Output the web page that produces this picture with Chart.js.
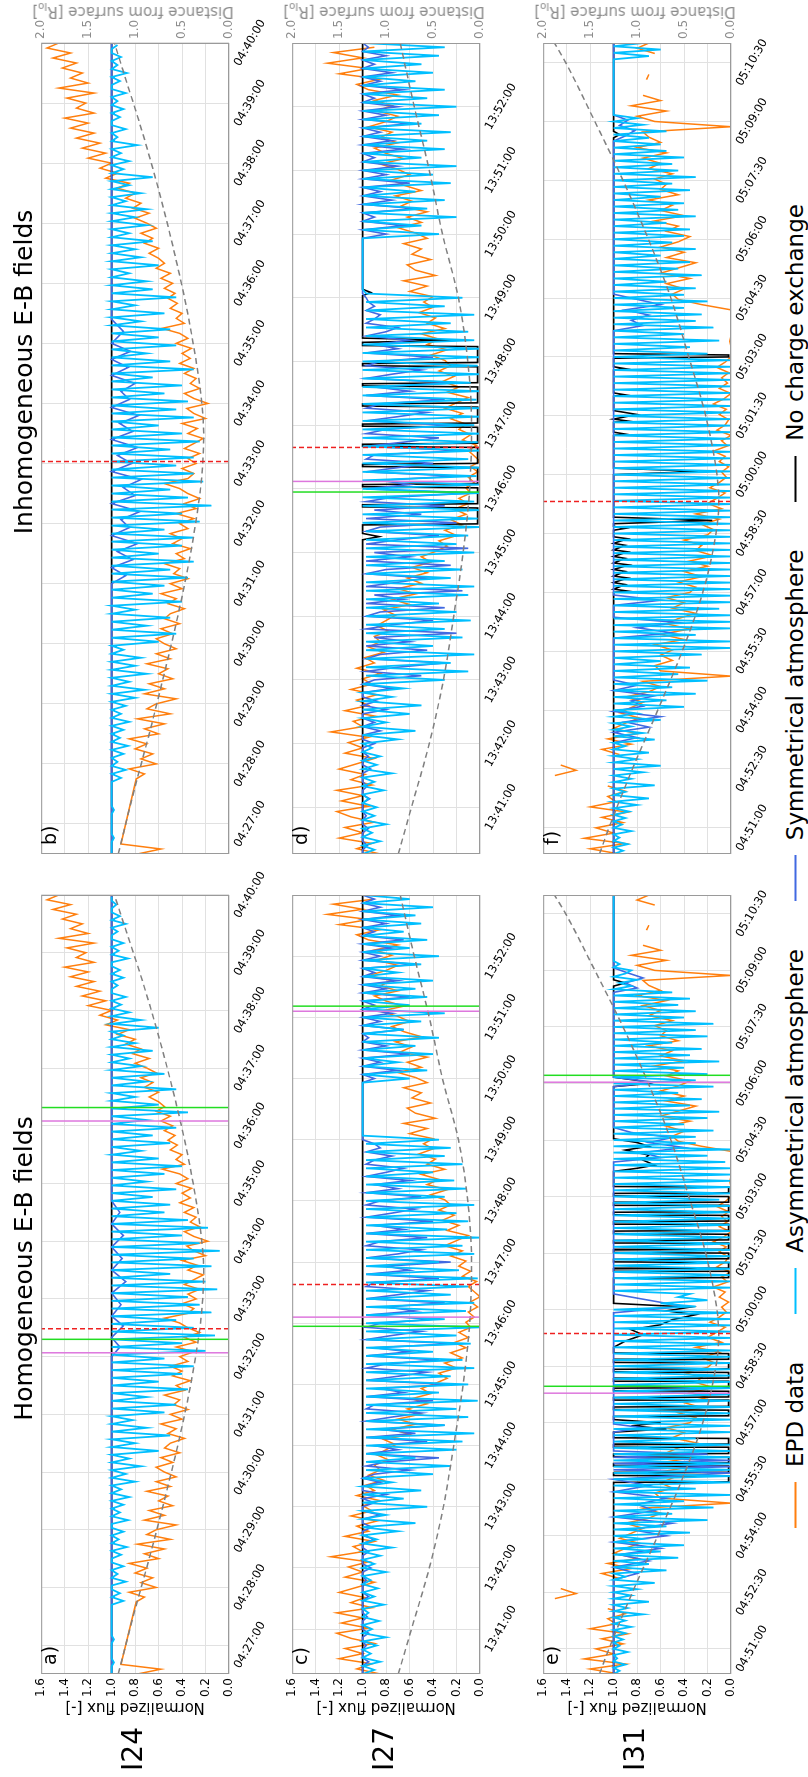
<!DOCTYPE html>
<html>
<head>
<meta charset="utf-8">
<title>Normalized flux - I24, I27, I31</title>
<script src="https://cdn.jsdelivr.net/npm/chart.js@4.4.1/dist/chart.umd.min.js"></script>
<style>
  html, body { margin: 0; padding: 0; background: #fff; }
  body { width: 808px; height: 1777px; overflow: hidden; position: relative;
         font-family: "DejaVu Sans", sans-serif; }
  /* figure is laid out landscape, then turned a quarter turn to the left */
  #fig { position: absolute; left: 0; top: 0; width: 1777px; height: 808px;
         transform-origin: 0 0; transform: translate(0, 1777px) rotate(-90deg); }
  #fig canvas { position: absolute; }
  .t { position: absolute; white-space: nowrap; line-height: 1; color: #000; }
  .mid { transform: translate(-50%, -50%); }
  .up { transform: translate(-50%, -50%) rotate(-90deg); }
  .t sub { font-size: 10px; }
  #legend { position: absolute; left: 249px; top: 795px; transform: translateY(-50%);
            display: flex; align-items: center; font-size: 23px; white-space: nowrap; line-height: 1; }
  #legend i { display: inline-block; width: 46px; border-top: 2px solid; margin-right: 15px; }
  #legend span { margin-right: 48px; }
</style>
</head>
<body>
<div id="fig"></div>
<script>
// ---------------- axes ----------------
const I24_RANGE = ["04:26:30", "04:40:00"];
const I27_RANGE = ["13:40:16", "13:53:00"];
const I31_RANGE = ["04:50:20", "05:11:00"];

const I24_TICKS = ["04:27:00", "04:28:00", "04:29:00", "04:30:00", "04:31:00", "04:32:00", "04:33:00",
                   "04:34:00", "04:35:00", "04:36:00", "04:37:00", "04:38:00", "04:39:00", "04:40:00"];
const I27_TICKS = ["13:41:00", "13:42:00", "13:43:00", "13:44:00", "13:45:00", "13:46:00",
                   "13:47:00", "13:48:00", "13:49:00", "13:50:00", "13:51:00", "13:52:00"];
const I31_TICKS = ["04:51:00", "04:52:30", "04:54:00", "04:55:30", "04:57:00", "04:58:30", "05:00:00",
                   "05:01:30", "05:03:00", "05:04:30", "05:06:00", "05:07:30", "05:09:00", "05:10:30"];

const FLUX_TICKS = [0, 0.2, 0.4, 0.6, 0.8, 1.0, 1.2, 1.4, 1.6];
const DIST_TICKS = [0, 0.5, 1.0, 1.5, 2.0];

// ---------------- EPD data (regular samples from range start) ----------------
// I24, every 5 s
const EPD_I24 = [
  .78, .58, .92, null, null, null, null, null, null, null, null, null, null, null, null, .79,
  .72, .85, .62, .75, .65, .8, .7, .85, .6, .72, .55, .78, .5, .7, .62, .45, .72, .55, .68, .48,
  .6, .52, .7, .5, .62, .45, .55, .62, .48, .58, .42, .55, .5, .38, .52, .45, .58, .4,
  .5, .35, .47, .42, .55, .38, .45, .33, .48, .4, .5, .35, .42, .3, .45, .28, .38, .25,
  .35, .42, .55, .35, .3, .4, .28, .35, .25, .38, .3, .22, .35, .27, .4, .2, .3, .36,
  .18, .3, .38, .25, .33, .28, .38, .3, .42, .33, .4, .32, .45, .35, .42, .57, .38, .45,
  .4, .5, .44, .52, .46, .55, .48, .58, .5, .62, .55, .6, .68, .6, .72, .65, .75, .62,
  .7, .8, .68, .82, .75, .88, .8, .95, .85, 1.05, .95, 1.1, 1.0, 1.2, 1.05, 1.25, 1.1, 1.3,
  1.15, 1.35, 1.2, 1.4, 1.15, 1.3, 1.22, 1.38, 1.15, 1.45, 1.2, 1.35, 1.25, 1.42, 1.3, 1.5, 1.35, 1.55, 1.45
];
// I27, every 5 s
const EPD_I27 = [
  .85, 1.05, .92, 1.2, 1.0, 1.15, .9, 1.1, 1.22,
  .95, 1.18, 1.0, 1.22, .92, 1.1, .98, 1.2, 1.05, .9, 1.15, 1.0,
  1.12, .95, 1.27, 1.0, 1.08, .9, 1.15, .95, 1.05, .88, 1.1, .92,
  1.0, .85, 1.05, .9, .98, .82, .95, .85, .9, .78, .88, .8,
  .72, .82, .6, .75, .55, .7, .5, .62, .45, .58, .42, .5,
  .38, .28, .35, .2, .3, .15, .25, .12, .22, .1, .18, .08,
  .12, .05, .1, .02, .08, 0, .05, .1, .03, .15, .08, .18,
  .12, .25, .15, .3, .2, .1, .28, .18, .32, .22, .35, .25,
  .3, .42, .28, .45, .35, .5, .3, .45, .38, .52, .4, .48,
  .4, .6, .45, .65, .38, .55, .62, .42, .58, .5, .65, .45,
  .55, .7, .5, .62, .45, .68, .58, .72, .5, .65, .75, .6,
  .7, .85, .65, .8, .9, .7, .85, .75, .95, .8, .7, .88,
  .75, .9, .7, .95, 1.05, .85, 1.2, .95, 1.3, 1.0, 1.25, .9
];
// I31, every 8 s (null = no data)
const EPD_I31 = [
  .95, 1.2, .9, 1.25, 1.0, 1.15, .92, 1.1, .88, 1.2, .98, 1.05, .9,
  1.05, null, 1.5, 1.32, 1.45, null,
  .95, 1.1, .85, 1.05, .8, 1.0, .9, .78, .95,
  .85, .75, .9, .7, .6, .75, 0, .6, .65, .5, .6,
  .5, .65, .4, .6, .35, .55, .45, .3, .5, .4, .55, .35,
  .3, .45, .25, .4, .2, .35, .15, .3, .25, .4, .2,
  .15, .25, .1, .3, .08, .2, .12, .05, .18, .1, .04,
  .08, .02, .1, .05, .15, .03, .08, 0, .12, .05, .02, .1, .04, .15, .06, 0, .1, .03, .08, .02, .12, .05,
  0, 0, 0, .01, 0, 0, 0, 0, 0, 0, .25, .45,
  .5, .4, .55, .35, .6, .45, .3, .55, .4, .6, .45,
  .35, .55, .45, .65, .4, .6, .5, .7, .45, .6, .55,
  .65, .5, .7, .6, .75, .55, .8, .6,
  .7, .75, 0, .65, .8, .55, .85, .6, .75,
  null, null, .72, .7, null, null, null, .65, .8, .7
];

// ---------------- distance from surface [s from range start, R_Io] ----------------
const DIST_I24 = [[0, 1.18], [60, 1.02], [120, .85], [180, .69], [240, .54], [300, .41], [360, .31], [390, .28],
                  [420, .27], [450, .29], [480, .33], [540, .44], [600, .58], [660, .74], [720, .92], [780, 1.12], [810, 1.22]];
const DIST_I27 = [[0, .87], [44, .73], [104, .54], [164, .39], [224, .28], [284, .18], [344, .11], [404, .09],
                  [464, .13], [524, .23], [584, .4], [644, .54], [704, .7], [764, .85]];
const DIST_I31 = [[0, 1.4], [40, 1.3], [130, 1.05], [220, .78], [310, .52], [400, .3], [490, .16], [540, .13],
                  [580, .15], [670, .27], [760, .45], [850, .64], [940, .88], [1030, 1.15], [1120, 1.45], [1210, 1.76], [1240, 1.88]];

// ---------------- model runs ----------------
// a) I24 homogeneous, asymmetrical atmosphere, every 4 s
const ASYM_A = [
  1, 1, 1, .98, 1, 1, 1, 1, 1, .98, 1, 1, 1, 1, 1, 1, 1, 1,
  1, .9, 1, .93, 1, 1, .88, 1, .95, 1, .9, 1, 1, .92, 1, .87, 1, .94, 1, .9,
  1, 1, .86, 1, .93, 1, .9, 1, .85, 1, .92, 1, .8, 1, .88,
  1, .75, 1, .85, 1, .6, 1, .8, 1, .5, 1, .7, 1, .82, 1,
  .55, 1, .45, 1, .7, 1, .35, 1, .6, 1, .4, 1, .3, 1, .55,
  1, .2, 1, .4, 1, .12, 1, .3, 1, .45, 1, .15, 1, .25, 1, .35, 1, .1, 1, .2,
  1, .5, 1, .15, 1, .3, 1, .08, 1, .25, 1, .4, 1, .18, 1, .35, 1, .55,
  1, .5, 1, .65, 1, .45, 1, .7, 1, .55, 1, .4, 1, .6, 1, .75, 1, .5, 1, .65, 1, .45,
  1, .7, 1, .35, 1, .6, 1, .8, 1, .45, 1, .7, 1, .55, 1,
  .75, 1, .85, 1, .65, 1, .8, 1, .9, 1, .6, 1, .75, 1, .85,
  1, .92, 1, .88, 1, 1, .95, 1, .9, 1, .93, 1, 1, .86, 1, .94, 1, .9, 1, 1,
  .95, 1, .88, 1, .93, 1, 1, .96, 1, 1
];
const SYM_A = [[0, 1], [330, 1], [340, .93], [350, 1], [362, .9], [372, 1], [384, .92], [396, 1], [408, .88],
               [420, 1], [432, .91], [444, 1], [456, .9], [468, 1], [480, .93], [492, 1], [810, 1]];
const BLACK_I24 = [[0, 1], [810, 1]];

// b) I24 inhomogeneous
const ASYM_B = [
  1, 1, 1, 1, .98, 1, 1, 1, 1, 1, 1, .98, 1, 1, 1, 1, 1, 1,
  1, .92, 1, .88, 1, .95, 1, .9, 1, .86, 1, .93, 1, .9, 1, .85, 1, .92, 1, .88,
  1, .8, 1, .72, 1, .85, 1, .7, 1, .8, 1, .75, 1, .9, 1,
  .6, 1, .45, 1, .7, 1, .5, 1, .8, 1, .4, 1, .65, 1, .55,
  1, .35, 1, .5, 1, .3, 1, .6, 1, .4, 1, .3, 1, .55, 1,
  .25, 1, .4, 1, .15, 1, .35, 1, .5, 1, .22, 1, .3, 1, .45,
  1, .3, 1, .5, 1, .25, 1, .4, 1, .6, 1, .3, 1, .45, 1,
  .35, 1, .55, 1, .4, 1, .65, 1, .3, 1, .5, 1, .7, 1, .45,
  1, .6, 1, .5, 1, .75, 1, .55, 1, .8, 1, .45, 1, .65, 1,
  .7, 1, .85, 1, .6, 1, .75, 1, .8, 1, .65, 1, .85, 1, .7,
  1, .8, 1, .7, 1, .88, 1, .75, 1, .85, 1, .65, 1, .9, 1,
  .85, 1, .92, 1, .78, 1, .95, 1, .88, 1, 1, .93, 1, .9, 1, .95, 1, .88, 1, 1,
  .93, 1, .87, 1, .95, 1, .92, 1, 1, .95
];
const SYM_B = [[0, 1], [270, 1], [278, .88], [286, 1], [294, .82], [302, .95], [310, .78], [318, 1], [326, .85],
               [334, .92], [342, .76], [350, 1], [358, .8], [366, .9], [374, .75], [382, 1], [390, .83], [398, .95],
               [406, .78], [414, 1], [422, .82], [430, .93], [438, .77], [446, 1], [454, .85], [462, .92], [470, .8],
               [478, 1], [486, .86], [494, 1], [502, .84], [510, 1], [522, .9], [534, 1], [810, 1]];

// c) I27 homogeneous, every 4 s
const ASYM_C = [
  1, .9, 1, .85, 1, .93, 1, .88, 1, .8, 1, .92, 1, .86, 1, .95, 1, .82, 1, .9,
  1, .87, 1, .93, 1, .8, 1, .9, 1, .85, 1, .75, 1, .88,
  1, .7, 1, .55, 1, .8, 1, .45, 1, .65, 1, .5, 1, .75, 1,
  .4, .97, .25, .97, .55, .97, .2, .97,
  .15, .97, .05, .97, .3, .97, .1, .97, .2, .97, .02, .97, .35, .97, .1, .97, .25, .97, .05, .97,
  .15, .97, .4, .97, .08, .97, .2, .97, 0, .97, .3, .97, .12, .97, .05, .97, .25, .97, .1, .97,
  .02, .97, .18, .97, .35, .97, .05, .97, .15, .97, 0, .97, .28, .97, .1, .97, .2, .97, .05, .97,
  .3, .97, .12, .97, .22, .97, .4, .97, .15, .97, .3, .97, .25, .97, .35,
  1, 1, 1, 1, 1, 1, 1, 1, 1, 1, 1, 1, 1, 1,
  .6, 1, .45, 1, .7, 1, .4, 1, .55, 1, .35, 1, .65, 1, .5, 1, .3, 1, .6, 1,
  .45, 1, .55, 1, .4, 1, .7, 1, .5, 1, .35, 1, .6, 1, .45, 1, .65, 1, .5, 1,
  .55, 1, .4, 1, .6, 1
];
const SYM_C = [
  1, 1, 1, .95, 1, 1, 1, .97, 1, 1, .95, 1, 1, 1, .96, 1, 1, 1, 1, .95,
  1, 1, 1, .97, 1, 1, .93, 1, 1, 1, .95, 1, 1, .9, 1, 1, .92, 1, 1, .85,
  1, 1, .9, 1, .8, 1, 1, .85, 1,
  .9, .6, .97, .8, .35, .97, .7, .9, .45, .97, .55, .85, .3, .97, .75, .5, .97, .9, .4, .97,
  .65, .85, .25, .97, .7, .45, .97, .8, .35, .97, .6, .9, .2, .97, .75, .5, .97, .85, .4, .97,
  .55, .8, .3, .97, .7, .45, .97, .9, .35, .97, .6, .8, .25, .97, .7, .5, .97, .85, .45, .97,
  .65, .9, .4, .97, .75, .55, .97, .85, .5, .97, .7, .9, .6, .97, .8, .65, .97, .9, .75, .97,
  .85, .9, 1,
  1, 1, 1, 1, 1, 1, 1, 1, 1, 1, 1, 1, 1, 1,
  .9, 1, .7, 1, .85, 1, .6, 1, .8, 1, .95, 1, .65, 1, .85, 1, .75, 1, .9, 1,
  .6, 1, .8, 1, .7, 1, .9, 1, .55, 1, .85, 1, .75, 1, .65, 1, .9, 1, .8, 1,
  .7, 1, .85, 1, .9, 1
];
const BLACK_C = [[0, 1], [764, 1]];

// d) I27 inhomogeneous, every 4 s
const ASYM_D = [
  1, .9, 1, .85, 1, .92, 1, .8, 1, .9, 1, .88, 1, .95, 1, .82, 1, .9, 1, .75, 1, .88, 1, .85, 1, .92,
  1, .7, 1, .55, 1, .8, 1, .6, 1, .5, 1, .75, 1, .65, 1,
  .3, .97, .1, .97, .25, .97, .05, .97, .4, .97, .15, .97, .3, .97, .08, .97, .2, .97, .35, .97,
  .1, .97, .05, .97, .25, .97, .15, .97, .3, .97, .05, .97, .2, .97, .1, .97,
  0, 1, .02, 1, 0, 1, .05, 1, 0, 1, 0, 1, .03, 1, 0, 1, .1, 1, 0, 1,
  .02, 1, 0, 1, .05, 1, 0, 1, 0, 1, .03, 1, 0, 1, .08, 1, 0, 1, .02, 1,
  0, 1, 0, 1, .05,
  .97, .1, .97, .25, .97, .05, .97, .3, .97, .15, .97,
  1, 1, 1, 1, 1, 1, 1, 1, 1, 1, 1, 1, 1,
  .35, 1, .5, 1, .2, 1, .45, 1, .3, 1, .55, 1, .25, 1, .4, 1, .2, 1, .5, 1,
  .3, 1, .45, 1, .25, 1, .5, 1, .35, 1, .2, 1, .45, 1, .3, 1, .55, 1, .4, 1,
  .5, 1, .35, 1, .3, 1
];
const SYM_D = [
  1, 1, .96, 1, 1, 1, .95, 1, 1, .97, 1, 1, 1, .94, 1, 1, .96, 1, 1, 1,
  .93, 1, 1, .95, 1, 1, .9, 1, 1, .85, 1, .9, 1, 1, .8, 1, .88, 1, 1, .75, 1,
  .9, .5, .97, .7, .3, .97, .85, .45, .97, .6, .9, .2, .97, .75, .4, .97, .85, .3, .97, .65,
  .9, .15, .97, .7, .45, .97, .8, .25, .97, .6, .9, .1, .97, .7, .35, .97, .85, .2, .97, .5,
  .9, .3, .97, .75, .1, .97, .6, .85, .2, .97, .7, .4, .97, .9, .15, .97, .65, .35, .97, .8,
  .25, .97, .7, .45, .97, .85, .3, .97, .6, .9, .2, .97, .75, .5, .97, .85, .4, .97, .7, .9,
  .6, .97, .8, .7, .97, .9, .85, .97, .9, .95, .97, 1,
  1, 1, 1, 1, 1, 1, 1, 1, 1, 1, 1, 1, 1,
  .8, 1, .65, 1, .9, 1, .55, 1, .75, 1, .85, 1, .6, 1, .8, 1, .7, 1, .9, 1,
  .65, 1, .75, 1, .85, 1, .6, 1, .8, 1, .7, 1, .9, 1, .65, 1, .85, 1, .75, 1,
  .9, 1, .8, 1, .95, 1
];
const BLACK_D = [
  [0, 1], [296, 1], [299, .86], [302, 1],
  [310, 1], [311, .02], [326, .02], [327, 1], [329, 1], [330, .02], [345, .02], [346, 1],
  [348, 1], [349, .02], [364, .02], [365, 1], [367, 1], [368, .02], [383, .02], [384, 1],
  [386, 1], [387, .02], [402, .02], [403, 1], [405, 1], [406, .02], [421, .02], [422, 1],
  [424, 1], [425, .02], [440, .02], [441, 1], [443, 1], [444, .02], [459, .02], [460, 1],
  [462, 1], [463, .02], [478, .02], [479, 1],
  [482, 1], [484, .2], [486, 1], [526, 1], [529, .93], [532, 1], [764, 1]
];

// e) I31 homogeneous, every 5 s
const ASYM_E = [
  1, .95, 1, .9, 1, .97, 1, .88, 1, .95, 1, .92, 1, .9, 1,
  .85, 1, .9, 1, .75, 1, .88, 1, .7, 1, .85, 1, .8, 1, .65, 1, .9, 1,
  .55, 1, .7, 1, .45, 1, .6, 1, .4, 1, .75, 1,
  .35, 1, .55, 1, .2, 1, .5, 1, .15, 1, .4, 1, 0, 1, .3, 1,
  0, 1, 0, 1, 0, 1, 0, 1, 0, 1, 0, 1, 0, 1, .3, 1, 0, 1, 0, 1,
  0, 1, 0, 1, 0, 1, 0, 1, 0, 1, 0, 1, 0, 1, 0, 1, 0, 1, 0, 1,
  0, 1, 0, 1, 0, 1, 0, 1, 0, 1, 0, 1, 0, 1, 0, 1,
  .3, .6, .2, .45, .35, 1,
  0, 1, 0, 1, 0, 1, 0, 1, 0, 1, 0, 1, 0, 1, 0, 1, 0, 1, 0, 1,
  0, 1, 0, 1, 0, 1, 0, 1, .1, 1, 0, 1, 0, 1, 0, 1, 0, 1, 0, 1,
  .05, 1, .2, 1, 0, 1, .3, 1,
  .3, 1, .15, 1, .4, 1, .2, 1, .1, 1, .35, 1, .25, 1, .45, 1, .15, 1, .3, 1,
  .2, 1, .4, 1, .1, 1, .35, 1, .25, 1, .5, 1, .2, 1, .3, 1, .15, 1, .4, 1,
  .3, 1, .45, 1, .35, 1, .5, 1,
  .85, .95, .8, 1, .9, .85, 1, .95,
  1, 1, 1, 1, 1, 1, 1, 1, 1, 1, 1, 1, 1, 1, 1, 1, 1, 1, 1, 1, 1, 1
];
const SYM_E = [[0, 1], [150, 1], [160, .8], [170, 1], [180, .7], [190, .95], [200, .6], [210, 1], [220, .55],
               [230, .85], [240, .5], [250, 1], [260, .65], [270, .8], [280, .55], [290, 1], [300, .7], [310, 1],
               [320, 0], [325, 1], [330, 0], [335, 1], [340, 0], [345, 1], [350, .2], [355, 1], [385, 1],
               [392, .75], [398, 1], [575, 1], [585, .4], [595, .7], [605, 1], [815, 1], [822, .6], [830, .75],
               [838, .4], [846, .7], [854, .5], [862, .85], [870, 1], [935, 1], [942, .65], [950, 1],
               [1085, 1], [1092, .8], [1100, .9], [1108, .75], [1116, .88], [1124, 1], [1240, 1]];
const BLACK_E = [
  [0, 1], [305, 1], [306, .02], [315, .02], [316, 1], [320, 1], [321, .02], [330, .02], [331, 1],
  [335, 1], [336, .02], [345, .02], [346, 1], [350, 1], [351, .02], [360, .02], [361, 1],
  [365, 1], [366, .02], [375, .02], [376, 1],
  [385, 1], [390, .55], [395, .85], [400, .6], [405, 1],
  [410, 1], [411, .02], [420, .02], [421, 1], [425, 1], [426, .02], [435, .02], [436, 1],
  [440, 1], [441, .02], [450, .02], [451, 1], [455, 1], [456, .02], [465, .02], [466, 1],
  [470, 1], [471, .02], [480, .02], [481, 1], [485, 1], [486, .02], [495, .02], [496, 1],
  [500, 1], [501, .02], [510, .02], [511, 1],
  [520, 1], [530, .9], [540, .75], [548, .85], [556, .6], [564, .5], [572, .3], [578, .55], [584, .35], [590, 1],
  [630, 1], [631, .02], [640, .02], [641, 1], [645, 1], [646, .02], [655, .02], [656, 1],
  [660, 1], [661, .02], [670, .02], [671, 1], [675, 1], [676, .02], [685, .02], [686, 1],
  [690, 1], [691, .02], [700, .02], [701, 1], [705, 1], [706, .02], [715, .02], [716, 1],
  [720, 1], [721, .02], [730, .02], [731, 1], [735, 1], [736, .02], [745, .02], [746, 1],
  [750, 1], [751, .02], [760, .02], [761, 1], [765, 1], [766, .02], [775, .02], [776, 1],
  [800, 1], [805, .8], [810, .65], [818, .75], [826, .7], [834, .9], [840, .7], [846, .8], [852, 1],
  [935, 1], [940, .7], [945, .8], [950, 1], [1095, 1], [1100, .9], [1105, 1], [1240, 1]
];

// f) I31 inhomogeneous, every 5 s
const ASYM_F = [
  1, .92, 1, .88, 1, .95, 1, .85, 1, .93, 1, .9, 1, .87, 1,
  .8, 1, .7, 1, .9, 1, .65, 1, .85, 1, .75, 1, .6, 1, .8, 1, .7, 1, .9, 1,
  .65, 1, .75, 1, .85, 1, .6, 1, .8, 1,
  .4, 1, .55, 1, .3, 1, .5, 1, .2, 1, .45, 1, .35, 1, .6, 1, .25, 1,
  0, 1, 0, 1, .3, 1, 0, 1, 0, 1, 0, 1, .1, 1, 0, 1, 0, 1, 0, 1,
  0, 1, 0, 1, 0, 1, 0, 1, 0, 1, 0, 1, 0, 1, 0, 1, 0, 1, 0, 1,
  0, 1, 0, 1, 0, 1, 0, 1, 0, 1, 0, 1, 0, 1, 0, 1, 0, 1, 0, 1,
  0, 1, 0, 1, 0, 1, 0, 1, 0, 1, 0, 1, 0, 1, 0, 1, 0, 1, 0, 1,
  0, 1, 0, 1, 0, 1, 0, 1, 0, 1,
  .2, 1, .35, 1, .1, 1, .4, 1, .15, 1, .3, 1, .25, 1, .4, 1, .2, 1,
  .4, 1, .3, 1, .55, 1, .25, 1, .45, 1, .35, 1, .6, 1, .3, 1, .5, 1, .4, 1,
  .35, 1, .55, 1, .3, 1, .45, 1, .4, 1, .6, 1, .35, 1, .5, 1, .3, 1, .45, 1,
  .5, 1, .4, 1, .55, 1, .6, 1,
  .7, 1, .55, 1, .75, 1, .8, 1,
  1, 1, 1, 1, 1, 1, 1, 1, 1, 1, 1, 1, 1, 1, 1, 1, 1,
  .7, 1, .6, 1, .75
];
const SYM_F = [[0, 1], [170, 1], [178, .8], [186, 1], [194, .7], [202, .9], [210, .6], [218, 1], [226, .75],
               [234, .85], [242, .65], [250, 1], [258, .8], [266, 1], [330, 1], [338, .5], [346, .8], [354, .45],
               [362, 1], [380, 1], [388, .6], [396, 1], [800, 1], [808, .75], [816, .85], [824, .7], [832, .9],
               [840, .6], [848, .8], [856, 1], [1090, 1], [1098, .9], [1106, .82], [1114, .95], [1122, .88],
               [1130, 1], [1240, 1]];
const BLACK_F = [
  [0, 1], [400, 1], [402, .88], [405, 1], [412, .9], [415, 1], [422, .88], [425, 1], [432, .9], [435, 1],
  [442, .87], [445, 1], [452, .9], [455, 1], [462, .88], [465, 1], [472, .9], [475, 1], [482, .88], [485, 1],
  [495, 1], [498, .9], [501, 1], [505, 1], [510, .16], [515, 1], [580, 1], [585, .25], [590, 1],
  [640, 1], [642, .9], [645, 1], [660, 1], [662, .88], [665, 1], [672, .8], [678, 1], [700, 1], [702, .9], [705, 1],
  [740, 1], [742, .9], [745, 1], [758, 1], [760, .02], [763, .02], [765, 1],
  [1095, 1], [1100, .95], [1105, 1], [1240, 1]
];

// vertical marker lines: [time, kind]  g = green, v = violet, r = red dashed
const VL_A = [["04:36:19", "g"], ["04:36:05", "v"], ["04:32:29", "r"], ["04:32:18", "g"], ["04:32:04", "v"]];
const VL_B = [["04:33:02", "r"]];
const VL_C = [["13:51:11", "g"], ["13:51:06", "v"], ["13:46:38", "r"], ["13:46:06", "v"], ["13:45:57", "g"]];
const VL_D = [["13:46:39", "r"], ["13:46:07", "v"], ["13:45:57", "g"]];
const VL_E = [["05:06:13", "g"], ["05:06:02", "v"], ["04:59:22", "r"], ["04:57:58", "g"], ["04:57:47", "v"]];
const VL_F = [["04:59:19", "r"]];

// ---------------- layout ----------------
const fig = document.getElementById("fig");
const PW = 811, PH = 193, PAD_T = 6, PAD_B = 50;
const COL_X = [103, 923];
const ROW_Y = [36, 287, 538];

const MARK = {
  g: { color: "#22dd22", dash: [] },
  v: { color: "#dd77dd", dash: [] },
  r: { color: "#ee2020", dash: [5, 3] },
};

const FLY = {
  I24: { range: I24_RANGE, ticks: I24_TICKS, epd: EPD_I24, epdStep: 5, step: 4, dist: DIST_I24, span: true },
  I27: { range: I27_RANGE, ticks: I27_TICKS, epd: EPD_I27, epdStep: 5, step: 4, dist: DIST_I27, span: false },
  I31: { range: I31_RANGE, ticks: I31_TICKS, epd: EPD_I31, epdStep: 8, step: 5, dist: DIST_I31, span: false },
};

const PANELS = [
  { tag: "a)", fly: "I24", row: 0, col: 0, asym: ASYM_A, sym: SYM_A, black: BLACK_I24, vl: VL_A },
  { tag: "b)", fly: "I24", row: 0, col: 1, asym: ASYM_B, sym: SYM_B, black: BLACK_I24, vl: VL_B },
  { tag: "c)", fly: "I27", row: 1, col: 0, asym: ASYM_C, sym: SYM_C, black: BLACK_C, vl: VL_C },
  { tag: "d)", fly: "I27", row: 1, col: 1, asym: ASYM_D, sym: SYM_D, black: BLACK_D, vl: VL_D },
  { tag: "e)", fly: "I31", row: 2, col: 0, asym: ASYM_E, sym: SYM_E, black: BLACK_E, vl: VL_E },
  { tag: "f)", fly: "I31", row: 2, col: 1, asym: ASYM_F, sym: SYM_F, black: BLACK_F, vl: VL_F },
];

const hms = s => { const [h, m, sec] = s.split(":").map(Number); return h * 3600 + m * 60 + sec; };
// list is either regular samples (every `step` s) or [seconds, value] pairs
const toPoints = (list, t0, step) => Array.isArray(list[0])
  ? list.map(([t, v]) => ({ x: t0 + t, y: v }))
  : list.map((v, i) => ({ x: t0 + i * step, y: v }));

Chart.defaults.font.family = '"DejaVu Sans", sans-serif';

// frame + slanted time labels
function deco(labels) {
  return {
    id: "deco",
    afterDraw(chart) {
      const { ctx, chartArea: a, scales: { x } } = chart;
      ctx.save();
      ctx.strokeStyle = "#9a9a9a";
      ctx.lineWidth = 1;
      ctx.strokeRect(a.left + 0.5, a.top + 0.5, a.right - a.left - 1, a.bottom - a.top - 1);
      ctx.fillStyle = "#000";
      ctx.font = '11.5px "DejaVu Sans"';
      ctx.textAlign = "center";
      ctx.textBaseline = "middle";
      labels.forEach(lab => {
        ctx.save();
        ctx.translate(x.getPixelForValue(hms(lab)), a.bottom + 21);
        ctx.rotate(Math.PI / 6);
        ctx.fillText(lab, 0, 0);
        ctx.restore();
      });
      ctx.restore();
    },
  };
}

function drawPanel(p) {
  const f = FLY[p.fly];
  const showFlux = p.col === 0, showDist = p.col === 1;
  const padL = showFlux ? 70 : 0, padR = showDist ? 42 : 32;
  const t0 = hms(f.range[0]), t1 = hms(f.range[1]);
  const px = COL_X[p.col], py = ROW_Y[p.row];

  const cv = document.createElement("canvas");
  const w = padL + PW + padR, h = PAD_T + PH + PAD_B;
  cv.width = w; cv.height = h;
  Object.assign(cv.style, { left: (px - padL) + "px", top: (py - PAD_T) + "px", width: w + "px", height: h + "px" });
  fig.appendChild(cv);

  const datasets = [];
  p.vl.forEach(([tm, kind]) => datasets.push({
    data: [{ x: hms(tm), y: 0 }, { x: hms(tm), y: 1.6 }],
    borderColor: MARK[kind].color, borderDash: MARK[kind].dash, borderWidth: 1.5, order: 0,
  }));
  datasets.push({ data: toPoints(f.dist, t0), yAxisID: "y2", borderColor: "#808080", borderWidth: 1.5,
                  borderDash: [6, 4], cubicInterpolationMode: "monotone", order: 1 });
  datasets.push({ data: toPoints(p.asym, t0, f.step), borderColor: "#00bfff", borderWidth: 1.8, order: 2 });
  datasets.push({ data: toPoints(p.sym, t0, f.step), borderColor: "#4169e1", borderWidth: 1.6, order: 3 });
  datasets.push({ data: toPoints(p.black, t0, f.step), borderColor: "#000000", borderWidth: 1.6, order: 4 });
  datasets.push({ data: toPoints(f.epd, t0, f.epdStep), borderColor: "#ff7f0e", borderWidth: 1.5,
                  spanGaps: f.span, order: 5 });

  new Chart(cv, {
    type: "line",
    data: { datasets },
    options: {
      responsive: false, animation: false, events: [],
      layout: { padding: { top: PAD_T, left: 0, bottom: 0, right: showDist ? 0 : padR } },
      elements: { point: { radius: 0 }, line: { tension: 0 } },
      plugins: { legend: { display: false }, tooltip: { enabled: false } },
      scales: {
        x: {
          type: "linear", min: t0, max: t1,
          afterBuildTicks: s => { s.ticks = f.ticks.map(l => ({ value: hms(l) })); },
          ticks: { display: false },
          grid: { color: "#e1e1e1", drawTicks: false },
          border: { display: false },
          afterFit: s => { s.height = PAD_B; },
        },
        y: {
          min: 0, max: 1.6,
          afterBuildTicks: s => { s.ticks = FLUX_TICKS.map(v => ({ value: v })); },
          ticks: { display: showFlux, padding: 4, color: "#000", font: { size: 12 }, callback: v => v.toFixed(1) },
          grid: { color: "#e1e1e1", drawTicks: false },
          border: { display: false },
          title: { display: showFlux, text: "Normalized flux [-]", color: "#000", font: { size: 15 },
                   padding: { top: 28, bottom: 0 } },
          afterFit: s => { s.width = padL; },
        },
        y2: {
          display: showDist, position: "right", min: 0, max: 2,
          afterBuildTicks: s => { s.ticks = DIST_TICKS.map(v => ({ value: v })); },
          ticks: { padding: 4, color: "#8c8c8c", font: { size: 12 }, callback: v => v.toFixed(1) },
          grid: { drawOnChartArea: false, drawTicks: false },
          border: { display: false },
          afterFit: s => { s.width = padR; },
        },
      },
    },
    plugins: [deco(f.ticks)],
  });

  addText(p.tag, px + 9, py + 4, { fontSize: "19px" });
  if (showDist) {
    addText('Distance from surface [R<sub>Io</sub>]', 1767, py + PH / 2,
            { fontSize: "15px", color: "#8c8c8c" }, "up");
  }
}

function addText(html, x, y, css, cls) {
  const d = document.createElement("div");
  d.className = "t" + (cls ? " " + cls : "");
  d.innerHTML = html;
  Object.assign(d.style, { left: x + "px", top: y + "px" }, css);
  fig.appendChild(d);
}

PANELS.forEach(drawPanel);

addText("Homogeneous E-B fields", COL_X[0] + PW / 2, 23, { fontSize: "25px" }, "mid");
addText("Inhomogeneous E-B fields", 1405, 23, { fontSize: "25px" }, "mid");
["I24", "I27", "I31"].forEach((name, r) => addText(name, 28, ROW_Y[r] + PH / 2, { fontSize: "28px" }, "mid"));

// legend
const LEGEND = [["EPD data", "#ff7f0e"], ["Asymmetrical atmosphere", "#00bfff"],
                ["Symmetrical atmosphere", "#4169e1"], ["No charge exchange", "#000000"]];
const lg = document.createElement("div");
lg.id = "legend";
lg.innerHTML = LEGEND.map(([name, c]) => `<i style="border-color:${c}"></i><span>${name}</span>`).join("");
fig.appendChild(lg);
</script>
</body>
</html>
